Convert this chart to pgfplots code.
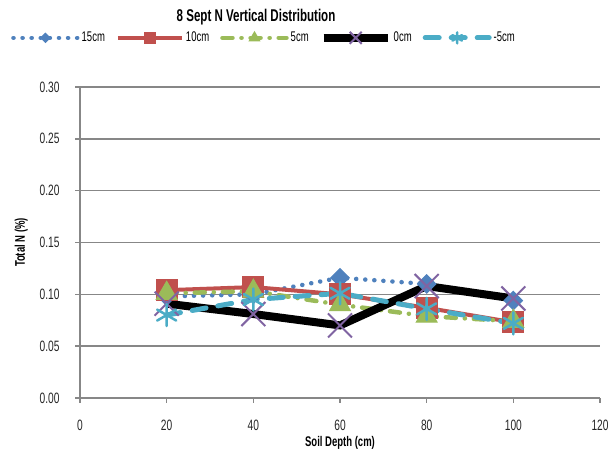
\documentclass[border=0pt]{standalone}
\usepackage{pgfplots}
\pgfplotsset{compat=1.18}
\usepackage{fontspec}
\setmainfont{Liberation Sans}[FakeStretch=0.68]
\usetikzlibrary{plotmarks}

\definecolor{sBlue}{HTML}{4F81BD}
\definecolor{sRed}{HTML}{C0504D}
\definecolor{sGreen}{HTML}{9BBB59}
\definecolor{sPurple}{HTML}{8064A2}
\definecolor{sCyan}{HTML}{4BACC6}
\definecolor{axgray}{HTML}{878787}

\begin{document}
\begin{tikzpicture}
\begin{axis}[
  scale only axis,
  width=520pt, height=311pt,
  xmin=0, xmax=120, ymin=0, ymax=0.30,
  xtick={0,20,...,120},
  ytick={0,0.05,...,0.30},
  /pgf/number format/assume math mode=true,
  yticklabel style={/pgf/number format/fixed, /pgf/number format/fixed zerofill,
    /pgf/number format/precision=2, xshift=-12pt},
  ticklabel style={font=\fontsize{15}{15}\selectfont, text=black!85},
  xticklabel style={yshift=-13pt},
  axis x line*=bottom, axis y line*=left,
  axis line style={axgray, line width=1.5pt},
  x axis line style={-}, y axis line style={-},
  tick style={axgray, line width=1.5pt},
  tick align=outside, major tick length=5pt,
  ymajorgrids, grid style={axgray, line width=1.5pt},
  xlabel={\bfseries Soil Depth (cm)},
  ylabel={\bfseries Total N (\%)},
  label style={font=\fontsize{14}{14}\selectfont},
  xlabel style={yshift=1pt},
  ylabel style={yshift=5pt},
  clip=false,
  legend columns=5,
  legend style={at={(rel axis cs:-0.1385,1.158)}, anchor=west, draw=none, fill=none,
    font=\fontsize{14}{14}\selectfont,
    /tikz/every even column/.append style={column sep=9pt}},
  legend image code/.code={
    \draw[mark repeat=2, mark phase=2, /tikz/every mark/.append style={scale=0.5}]
      plot coordinates {(0pt,0pt) (32pt,0pt) (64pt,0pt)};},
]
% 15 cm probe
\addplot[sBlue, line width=4.5pt, dash pattern=on 0.1pt off 9pt, line cap=round,
  mark=square*, mark size=6.5pt, mark options={solid, rotate=45, fill=sBlue, line width=1pt}]
  coordinates {(20,0.098) (40,0.100) (60,0.116) (80,0.110) (100,0.094)};
\addlegendentry{15cm}
% 10 cm probe
\addplot[sRed, line width=4pt,
  mark=square*, mark size=10.5pt, mark options={solid, fill=sRed, line width=1pt}]
  coordinates {(20,0.104) (40,0.107) (60,0.100) (80,0.087) (100,0.073)};
\addlegendentry{10cm}
% 5 cm probe
\addplot[sGreen, line width=4.5pt, line cap=round, dash pattern=on 10pt off 9pt on 0.1pt off 9pt,
  mark=triangle*, mark size=12pt, mark options={solid, fill=sGreen, line width=1pt}]
  coordinates {(20,0.101) (40,0.103) (60,0.090) (80,0.079) (100,0.074)};
\addlegendentry{5cm}
% 0 cm probe
\addplot[black, line width=8pt, line join=miter,
  mark=x, mark size=17pt, mark options={solid, draw=sPurple, line width=2pt}]
  coordinates {(20,0.091) (40,0.081) (60,0.070) (80,0.108) (100,0.096)};
\addlegendentry{0cm}
% -5 cm probe
\addplot[sCyan, line width=5pt, line cap=round, dash pattern=on 14pt off 12pt,
  mark=asterisk, mark size=11pt, mark options={solid, draw=sCyan, line width=2.5pt}]
  coordinates {(20,0.080) (40,0.095) (60,0.101) (80,0.086) (100,0.072)};
\addlegendentry{-5cm}

\node[font=\bfseries\fontsize{17}{17}\selectfont] at (rel axis cs:0.3385,1.225) {8 Sept N Vertical Distribution};
\path (rel axis cs:-0.15385,-0.19293) rectangle (rel axis cs:1.025,1.27974);
\end{axis}
\end{tikzpicture}
\end{document}
